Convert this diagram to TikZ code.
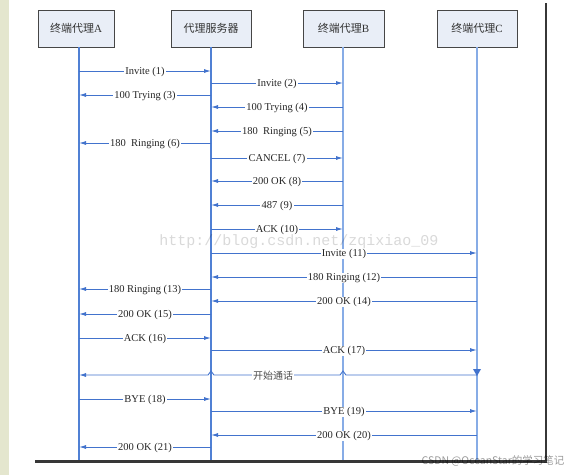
\documentclass[tikz,border=0pt]{standalone}
\usepackage{fontspec}
\setmainfont{Liberation Serif}
\newfontfamily\cjk{Noto Sans CJK SC}
\newfontfamily\monof{Liberation Mono}
\usetikzlibrary{arrows.meta,calc}
\definecolor{msgblue}{RGB}{66,115,205}
\definecolor{lifeA}{RGB}{80,128,212}
\definecolor{lifeB}{RGB}{135,172,230}
\definecolor{boxfill}{RGB}{233,238,247}
\definecolor{boxline}{RGB}{70,70,70}
\definecolor{beige}{RGB}{228,230,206}
\definecolor{framec}{RGB}{55,55,55}
\tikzset{
  actor/.style={draw=boxline, line width=0.9pt, fill=boxfill, minimum height=37pt, inner sep=0pt,
    font=\fontsize{11}{11}\selectfont, text=black!80},
  lifeline/.style={line width=1.1pt},
  msg/.style={draw=msgblue, line width=0.9pt, -{Latex[length=7pt,width=4pt]}},
  lbl/.style={fill=white, inner xsep=1.2pt, inner ysep=0.5pt, text=black!85, yshift=-0.8pt,
    font=\fontsize{10.5}{10.5}\selectfont},
}
\begin{document}
\begin{tikzpicture}[x=1pt,y=-1pt]
\useasboundingbox (0,0) rectangle (582,475);
\fill[white] (0,0) rectangle (582,475);
\fill[beige] (0,0) rectangle (9,475);

% actors
\node[actor, minimum width=76pt] (A) at (76,28.5) {{\cjk 终端代理}A};
\node[actor, minimum width=80pt] (S) at (211,28.5) {\cjk 代理服务器};
\node[actor, minimum width=81pt] (B) at (343.5,28.5) {{\cjk 终端代理}B};
\node[actor, minimum width=80pt] (C) at (477,28.5) {{\cjk 终端代理}C};

% lifelines
\coordinate (lA) at (79,47);   \coordinate (eA) at (79,461);
\coordinate (lS) at (211,47);  \coordinate (eS) at (211,461);
\coordinate (lB) at (343,47);  \coordinate (eB) at (343,461);
\coordinate (lC) at (477,47);  \coordinate (eC) at (477,461);
\draw[lifeline, draw=lifeA] (lA) -- (eA);
\draw[lifeline, draw=lifeA] (lS) -- (eS);
\draw[lifeline, draw=lifeB] (lB) -- (eB);
\draw[lifeline, draw=lifeB] (lC) -- (eC);

% messages
\foreach \f/\t/\y/\l in {
  A/S/71/{Invite (1)},
  S/B/83/{Invite (2)},
  S/A/95/{100 Trying (3)},
  B/S/107/{100 Trying (4)},
  B/S/131/{180\ \ Ringing (5)},
  S/A/143/{180\ \ Ringing (6)},
  S/B/158/{CANCEL (7)},
  B/S/181/{200 OK (8)},
  B/S/205/{487 (9)},
  S/B/229/{ACK (10)},
  S/C/253/{Invite (11)},
  C/S/277/{180 Ringing (12)},
  S/A/289/{180 Ringing (13)},
  C/S/301/{200 OK (14)},
  S/A/314/{200 OK (15)},
  A/S/338/{ACK (16)},
  S/C/350/{ACK (17)},
  A/S/399/{BYE (18)},
  S/C/411/{BYE (19)},
  C/S/435/{200 OK (20)},
  S/A/447/{200 OK (21)}}
{
  \draw[msg] (l\f |- 0,\y) -- node[lbl] {\l} (l\t |- 0,\y);
}

% start of call: long line with hops
\coordinate (tC) at (477,375);
\coordinate (tA) at (79,375);
\draw[msg] (tC) -- (346,375) -- (343,371) -- (340,375) -- node[lbl, pos=0.53, text=black!70, font=\cjk\fontsize{10}{10}\selectfont] {开始通话}
  (214,375) -- (211,371) -- (208,375) -- (tA);
\fill[msgblue] (473,369) -- (481,369) -- (477,376) -- cycle;

% frame
\draw[framec, line width=2.6pt] (546,3) -- (546,461.5);
\draw[framec, line width=2.6pt] (35,461.5) -- (547.3,461.5);

% watermarks
\node[text=black, text opacity=0.15, font=\monof\fontsize{15}{15}\selectfont] (wm) at (299,242) {http://blog.csdn.net/zqixiao\_09};
\node[text=black, text opacity=0.4, font=\cjk\fontsize{10.5}{10.5}\selectfont] (wm2) at (493,461) {CSDN @OceanStar的学习笔记};
\end{tikzpicture}
\end{document}
